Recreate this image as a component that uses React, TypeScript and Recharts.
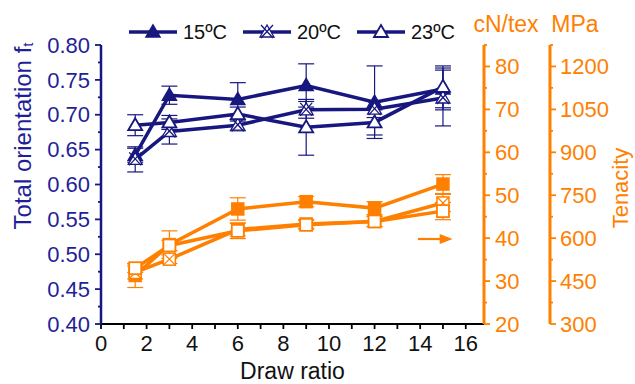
import React from 'react';
import { ComposedChart, Line, XAxis, YAxis, ErrorBar, Legend } from 'recharts';

const FONT = '"Liberation Sans", Arial, Helvetica, sans-serif';
const NAVY = '#17177f';
const NAVY_TEXT = '#1f1f99';
const ORANGE = '#ff8000';

// ---- data ----
const drawRatio = [1.5, 3, 6, 9, 12, 15];
const seriesNames = ['15ºC', '20ºC', '23ºC'];

const orient15 = [0.642, 0.728, 0.722, 0.742, 0.718, 0.737];
const orient20 = [0.636, 0.676, 0.685, 0.707, 0.708, 0.724];
const orient23 = [0.685, 0.689, 0.701, 0.682, 0.689, 0.740];
const orientErr15 = [0.01, 0.013, 0.024, 0.031, 0.052, 0.03];
const orientErr20 = [0.018, 0.018, 0.008, 0.012, 0.012, 0.04];
const orientErr23 = [0.015, 0.01, 0.01, 0.04, 0.018, 0.03];

const ten15 = [31.3, 38.5, 46.8, 48.5, 47.0, 52.6];
const ten20 = [32.0, 35.1, 42.0, 43.3, 43.9, 48.2];
const ten23 = [33.0, 38.3, 41.7, 43.1, 43.9, 46.3];
const tenErr15 = [2.8, 3.2, 2.6, 1.2, 1.5, 2.2];
const tenErr20 = [1.5, 1.0, 1.5, 1.0, 1.2, 2.0];
const tenErr23 = [1.0, 1.2, 1.8, 1.0, 1.2, 2.0];

const arrowX = [13.9, 14.9];
const arrowY = [39.8, 39.8];

// ---- ticks ----
const xTicks = [0, 1, 2, 3, 4, 5, 6, 7, 8, 9, 10, 11, 12, 13, 14, 15, 16];
const xLabelTicks = [0, 2, 4, 6, 8, 10, 12, 14, 16];
const orientMajor = [0.4, 0.45, 0.5, 0.55, 0.6, 0.65, 0.7, 0.75, 0.8];
const orientMinor = [0.425, 0.475, 0.525, 0.575, 0.625, 0.675, 0.725, 0.775];
const cnMajor = [20, 30, 40, 50, 60, 70, 80];
const cnMinor = [25, 35, 45, 55, 65, 75, 85];
const mpaMajor = [300, 450, 600, 750, 900, 1050, 1200];
const mpaMinor = [375, 525, 675, 825, 975, 1125, 1275];

const data = drawRatio.map((x, i) => ({
  x,
  f15: orient15[i], f20: orient20[i], f23: orient23[i],
  ef15: orientErr15[i], ef20: orientErr20[i], ef23: orientErr23[i],
  t15: ten15[i], t20: ten20[i], t23: ten23[i],
  et15: tenErr15[i], et20: tenErr20[i], et23: tenErr23[i],
}));
const arrowData = arrowX.map((x, i) => ({ x, a: arrowY[i] }));

const isIn = (arr: number[], v: number) => arr.some((m) => Math.abs(m - v) < 1e-9);

// ---- markers ----
function marker(kind: string, cx: number, cy: number, color: string) {
  const tri = `${cx},${cy - 7} ${cx - 7},${cy + 5} ${cx + 7},${cy + 5}`;
  const sq = { x: cx - 6, y: cy - 6, width: 12, height: 12 };
  switch (kind) {
    case 'triFilled':
      return <polygon points={tri} fill={color} stroke={color} strokeWidth={1.5} />;
    case 'triOpen':
      return <polygon points={tri} fill="#fff" stroke={color} strokeWidth={1.8} />;
    case 'triX':
      return (
        <g>
          <polygon points={tri} fill="#fff" stroke={color} strokeWidth={1.3} />
          <line x1={cx - 6} y1={cy - 7} x2={cx + 6} y2={cy + 6} stroke={color} strokeWidth={1.3} />
          <line x1={cx + 6} y1={cy - 7} x2={cx - 6} y2={cy + 6} stroke={color} strokeWidth={1.3} />
        </g>
      );
    case 'sqFilled':
      return <rect {...sq} fill={color} stroke={color} strokeWidth={1.5} />;
    case 'sqOpen':
      return <rect {...sq} fill="#fff" stroke={color} strokeWidth={1.8} />;
    case 'sqX':
      return (
        <g>
          <rect {...sq} fill="#fff" stroke={color} strokeWidth={1.5} />
          <line x1={cx - 6} y1={cy - 6} x2={cx + 6} y2={cy + 6} stroke={color} strokeWidth={1.2} />
          <line x1={cx + 6} y1={cy - 6} x2={cx - 6} y2={cy + 6} stroke={color} strokeWidth={1.2} />
        </g>
      );
    default:
      return null;
  }
}

const makeDot = (kind: string, color: string) => (props: any) => {
  const { cx, cy, index } = props;
  if (cx == null || cy == null) return <g key={`${kind}-n${index}`} />;
  return <g key={`${kind}-${index}`}>{marker(kind, cx, cy, color)}</g>;
};

const arrowDot = (props: any) => {
  const { cx, cy, index } = props;
  if (index !== 1 || cx == null) return <g key={`arr-${index}`} />;
  return (
    <polygon key={`arr-${index}`} points={`${cx - 1},${cy - 5} ${cx + 12},${cy} ${cx - 1},${cy + 5}`} fill={ORANGE} />
  );
};

// ---- ticks renderers ----
const LeftTick = (props: any) => {
  const { x, y, payload } = props;
  const v = payload.value;
  const major = isIn(orientMajor, v);
  const ax = x + 11;
  return (
    <g>
      <line x1={ax - (major ? 6 : 3)} y1={y} x2={ax} y2={y} stroke={NAVY} strokeWidth={1.8} />
      {major && (
        <text x={x} y={y} dy="0.35em" textAnchor="end" fill={NAVY_TEXT} fontSize={22} fontFamily={FONT}>
          {v.toFixed(2)}
        </text>
      )}
    </g>
  );
};

const CnTick = (props: any) => {
  const { x, y, payload } = props;
  const v = payload.value;
  const major = isIn(cnMajor, v);
  const ax = x - 11;
  return (
    <g>
      <line x1={ax} y1={y} x2={ax + (major ? 6 : 3)} y2={y} stroke={ORANGE} strokeWidth={1.8} />
      {major && (
        <text x={x} y={y} dy="0.35em" textAnchor="start" fill={ORANGE} fontSize={22} fontFamily={FONT}>
          {v}
        </text>
      )}
    </g>
  );
};

const MpaTick = (props: any) => {
  const { x, y, payload } = props;
  const v = payload.value;
  const major = isIn(mpaMajor, v);
  const ax = x - 10;
  return (
    <g>
      <line x1={ax} y1={y} x2={ax + (major ? 6 : 3)} y2={y} stroke={ORANGE} strokeWidth={1.8} />
      {major && (
        <text x={x} y={y} dy="0.35em" textAnchor="start" fill={ORANGE} fontSize={22} fontFamily={FONT}>
          {v}
        </text>
      )}
    </g>
  );
};

const BottomTick = (props: any) => {
  const { x, y, payload } = props;
  const v = payload.value;
  const labeled = isIn(xLabelTicks, v);
  const ay = y - 11;
  return (
    <g>
      <line x1={x} y1={ay} x2={x} y2={ay + 5} stroke="#000" strokeWidth={1.8} />
      {labeled && (
        <text x={x} y={y} dy="0.72em" textAnchor="middle" fill="#111" fontSize={22} fontFamily={FONT}>
          {v}
        </text>
      )}
    </g>
  );
};

// ---- axis titles ----
const LeftTitle = (props: any) => {
  const cx = 22;
  const cy = 136;
  return (
    <text
      x={cx}
      y={cy}
      transform={`rotate(-90, ${cx}, ${cy})`}
      textAnchor="middle"
      dominantBaseline="central"
      fill={NAVY_TEXT}
      fontSize={24}
      fontFamily={FONT}
    >
      Total orientation f<tspan dy={5} fontSize={15}>t</tspan>
    </text>
  );
};

const CnTitle = (props: any) => {
  const vb = props.viewBox || { x: 484, y: 45 };
  return (
    <text x={vb.x + 22} y={vb.y - 13} textAnchor="middle" fill={ORANGE} fontSize={23} fontFamily={FONT}>
      cN/tex
    </text>
  );
};

const MpaTitle = (props: any) => {
  const vb = props.viewBox || { x: 550, y: 45, height: 279 };
  const tx = vb.x + 70;
  const ty = vb.y + 143;
  return (
    <g>
      <text x={vb.x + 25} y={vb.y - 13} textAnchor="middle" fill={ORANGE} fontSize={23} fontFamily={FONT}>
        MPa
      </text>
      <text
        x={tx}
        y={ty}
        transform={`rotate(-90, ${tx}, ${ty})`}
        textAnchor="middle"
        dominantBaseline="central"
        fill={ORANGE}
        fontSize={22}
        fontFamily={FONT}
      >
        Tenacity
      </text>
    </g>
  );
};

const XTitle = (props: any) => {
  const vb = props.viewBox || { x: 101, y: 324, width: 383 };
  return (
    <text x={vb.x + vb.width / 2} y={vb.y + 55} textAnchor="middle" fill="#111" fontSize={23} fontFamily={FONT}>
      Draw ratio
    </text>
  );
};

// ---- legend ----
const legendKinds = ['triFilled', 'triX', 'triOpen'];
const renderLegend = () => (
  <svg width={360} height={30} style={{ display: 'block' }}>
    {seriesNames.map((name, i) => {
      const x0 = 9 + i * 114;
      return (
        <g key={name}>
          <line x1={x0} y1={15} x2={x0 + 48} y2={15} stroke={NAVY} strokeWidth={3.5} />
          {marker(legendKinds[i], x0 + 24, 15, NAVY)}
          <text x={x0 + 54} y={15} dy="0.36em" fill="#111" fontSize={20} fontFamily={FONT}>
            {name}
          </text>
        </g>
      );
    })}
  </svg>
);

export default function App() {
  return (
    <div style={{ position: 'absolute', left: 0, top: 0, width: 635, height: 384, background: '#fff' }}>
      <ComposedChart width={635} height={384} data={data} margin={{ top: 45, right: 0, bottom: 0, left: 0 }}>
        <XAxis
          dataKey="x"
          type="number"
          domain={[0, 16.8]}
          allowDataOverflow
          ticks={xTicks}
          interval={0}
          height={60}
          tickSize={5}
          tickMargin={6}
          tickLine={false}
          tick={<BottomTick />}
          axisLine={{ stroke: '#000', strokeWidth: 2 }}
          label={{ content: <XTitle /> }}
        />
        <XAxis
          xAxisId="top"
          dataKey="x"
          type="number"
          orientation="top"
          domain={[0, 16.8]}
          allowDataOverflow
          ticks={xTicks}
          interval={0}
          height={0}
          mirror
          tickSize={5}
          tickFormatter={() => ''}
          tickLine={{ stroke: '#000', strokeWidth: 1.8 }}
          axisLine={{ stroke: '#000', strokeWidth: 2 }}
        />
        <YAxis
          yAxisId="fo"
          orientation="left"
          type="number"
          domain={[0.4, 0.8]}
          allowDataOverflow
          ticks={[...orientMajor, ...orientMinor].sort((a, b) => a - b)}
          interval={0}
          width={101}
          tickSize={5}
          tickMargin={6}
          tickLine={false}
          tick={<LeftTick />}
          axisLine={{ stroke: NAVY, strokeWidth: 2.5 }}
          label={{ content: <LeftTitle /> }}
        />
        <YAxis
          yAxisId="cn"
          orientation="right"
          type="number"
          domain={[20, 85]}
          allowDataOverflow
          ticks={[...cnMajor, ...cnMinor].sort((a, b) => a - b)}
          interval={0}
          width={66}
          tickSize={5}
          tickMargin={6}
          tickLine={false}
          tick={<CnTick />}
          axisLine={{ stroke: ORANGE, strokeWidth: 3 }}
          label={{ content: <CnTitle /> }}
        />
        <YAxis
          yAxisId="mpa"
          orientation="right"
          type="number"
          domain={[300, 1275]}
          allowDataOverflow
          ticks={[...mpaMajor, ...mpaMinor].sort((a, b) => a - b)}
          interval={0}
          width={85}
          tickSize={5}
          tickMargin={5}
          tickLine={false}
          tick={<MpaTick />}
          axisLine={{ stroke: ORANGE, strokeWidth: 3 }}
          label={{ content: <MpaTitle /> }}
        />

        <Legend
          verticalAlign="middle"
          align="center"
          layout="horizontal"
          content={renderLegend}
          wrapperStyle={{ position: 'absolute', top: 17, left: 120, width: 360, height: 30 }}
        />

        {/* Tenacity (orange) */}
        <Line yAxisId="cn" dataKey="t15" stroke={ORANGE} strokeWidth={3.5} dot={makeDot('sqFilled', ORANGE)} isAnimationActive={false}>
          <ErrorBar dataKey="et15" width={8} stroke={ORANGE} strokeWidth={1.2} direction="y" />
        </Line>
        <Line yAxisId="cn" dataKey="t20" stroke={ORANGE} strokeWidth={3.5} dot={makeDot('sqX', ORANGE)} isAnimationActive={false}>
          <ErrorBar dataKey="et20" width={8} stroke={ORANGE} strokeWidth={1.2} direction="y" />
        </Line>
        <Line yAxisId="cn" dataKey="t23" stroke={ORANGE} strokeWidth={3.5} dot={makeDot('sqOpen', ORANGE)} isAnimationActive={false}>
          <ErrorBar dataKey="et23" width={8} stroke={ORANGE} strokeWidth={1.2} direction="y" />
        </Line>

        {/* Orientation (navy) */}
        <Line yAxisId="fo" dataKey="f15" stroke={NAVY} strokeWidth={3.5} dot={makeDot('triFilled', NAVY)} isAnimationActive={false}>
          <ErrorBar dataKey="ef15" width={8} stroke={NAVY} strokeWidth={1.2} direction="y" />
        </Line>
        <Line yAxisId="fo" dataKey="f20" stroke={NAVY} strokeWidth={3.5} dot={makeDot('triX', NAVY)} isAnimationActive={false}>
          <ErrorBar dataKey="ef20" width={8} stroke={NAVY} strokeWidth={1.2} direction="y" />
        </Line>
        <Line yAxisId="fo" dataKey="f23" stroke={NAVY} strokeWidth={3.5} dot={makeDot('triOpen', NAVY)} isAnimationActive={false}>
          <ErrorBar dataKey="ef23" width={8} stroke={NAVY} strokeWidth={1.2} direction="y" />
        </Line>

        {/* arrow pointing to right axis */}
        <Line
          yAxisId="cn"
          data={arrowData}
          dataKey="a"
          stroke={ORANGE}
          strokeWidth={2.2}
          dot={arrowDot}
          legendType="none"
          isAnimationActive={false}
        />
      </ComposedChart>
    </div>
  );
}
